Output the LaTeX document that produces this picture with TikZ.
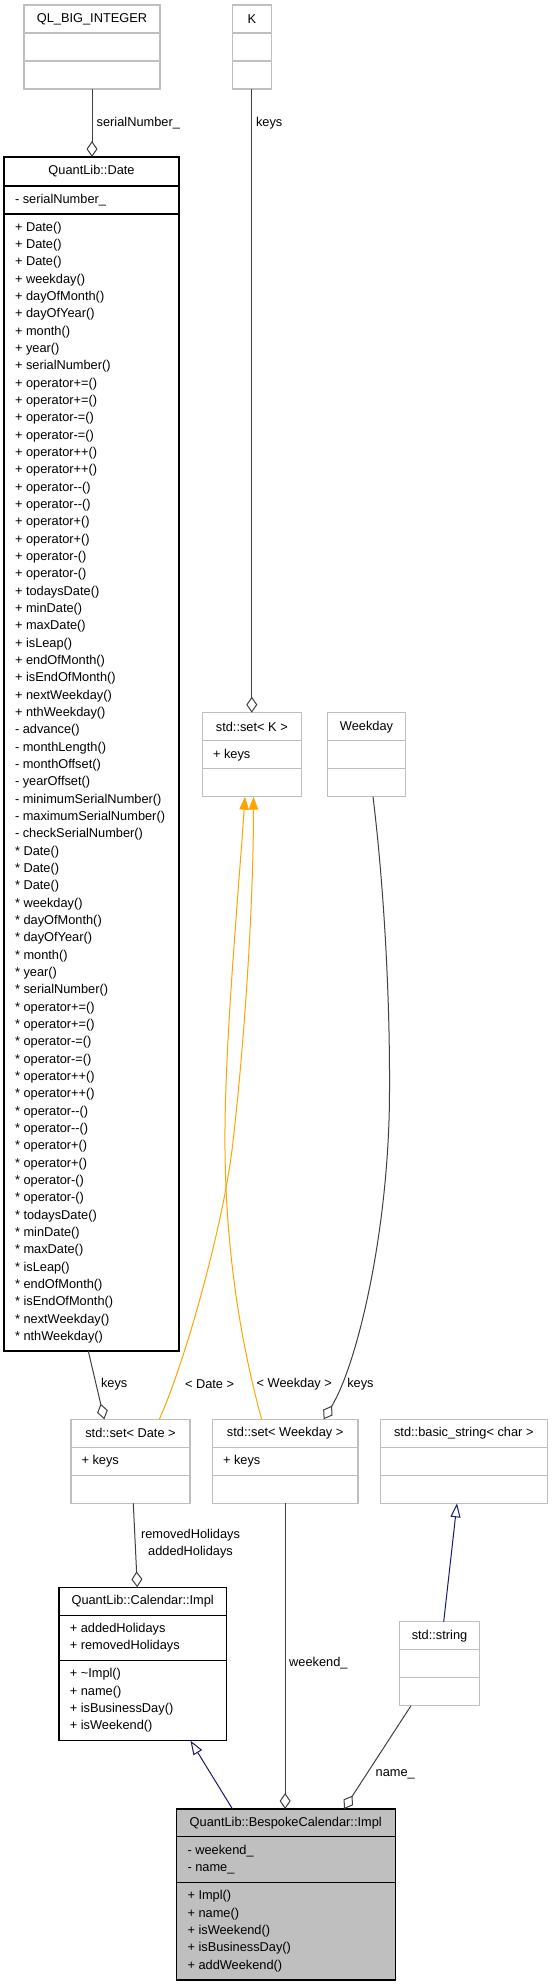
\documentclass[tikz,border=0pt]{standalone}
\usepackage{fontspec}
\setmainfont{Liberation Sans}
\usetikzlibrary{arrows.meta}
\definecolor{edgegray}{HTML}{404040}
\definecolor{boxgray}{HTML}{BFBFBF}
\definecolor{navyedge}{HTML}{191970}
\definecolor{tplorange}{HTML}{FFA500}
\newcommand\mm{-\kern0pt-}
\tikzset{
  every node/.style={font=\fontsize{12.8}{17.33}\selectfont, inner sep=0pt, outer sep=0pt},
  graybox/.style={draw=boxgray, line width=1.3pt, fill=white},
  blackbox/.style={draw=black, line width=1.2pt, fill=white},
  mainbox/.style={draw=black, line width=1.2pt, fill=boxgray},
  member/.style={anchor=west, align=left},
  lbl/.style={anchor=west},
  agg/.style={draw=edgegray, line width=1pt, -{Diamond[open,length=16pt,width=11pt]}},
  inh/.style={draw=navyedge, line width=1pt, -{Triangle[open,length=14pt,width=10pt]}},
  tpl/.style={draw=tplorange, line width=1pt, -{Triangle[length=13pt,width=9.5pt]}},
}
% name, style, x0, y0, x1, y1, sep1, sep2
\newcommand\umlbox[8]{%
  \node[#2, anchor=north west, minimum width={#5pt-#3pt}, minimum height={#6pt-#4pt}] (#1) at (#3,#4) {};
  \draw[#2, fill=none] (#3,#7) -- (#5,#7);
  \draw[#2, fill=none] (#3,#8) -- (#5,#8);
}
\begin{document}
\begin{tikzpicture}[x=1pt, y=-1pt]
\fill[white] (0,0) rectangle (552,1987);
\useasboundingbox (0,0) rectangle (552,1987);

% QL_BIG_INTEGER
\umlbox{ql}{graybox}{24}{5}{160}{89}{33}{61}
\node (qlt) at (92,19) {QL\_BIG\_INTEGER};
% K
\umlbox{k}{graybox}{232.3}{5}{271.3}{89}{33}{61}
\node (kt) at (251.8,19) {K};
% QuantLib::Date
\umlbox{date}{blackbox}{4}{157}{179}{1351}{186}{214}
\node (datet) at (91.5,171.5) {QuantLib::Date};
\node[member] (datea) at (15,200) {- serialNumber\_};
\node[member] (datem) at (15,782.5) {+ Date()\\+ Date()\\+ Date()\\+ weekday()\\+ dayOfMonth()\\+ dayOfYear()\\+ month()\\+ year()\\+ serialNumber()\\+ operator+=()\\+ operator+=()\\+ operator-=()\\+ operator-=()\\+ operator++()\\+ operator++()\\+ operator\mm()\\+ operator\mm()\\+ operator+()\\+ operator+()\\+ operator-()\\+ operator-()\\+ todaysDate()\\+ minDate()\\+ maxDate()\\+ isLeap()\\+ endOfMonth()\\+ isEndOfMonth()\\+ nextWeekday()\\+ nthWeekday()\\- advance()\\- monthLength()\\- monthOffset()\\- yearOffset()\\- minimumSerialNumber()\\- maximumSerialNumber()\\- checkSerialNumber()\\{}* Date()\\{}* Date()\\{}* Date()\\{}* weekday()\\{}* dayOfMonth()\\{}* dayOfYear()\\{}* month()\\{}* year()\\{}* serialNumber()\\{}* operator+=()\\{}* operator+=()\\{}* operator-=()\\{}* operator-=()\\{}* operator++()\\{}* operator++()\\{}* operator\mm()\\{}* operator\mm()\\{}* operator+()\\{}* operator+()\\{}* operator-()\\{}* operator-()\\{}* todaysDate()\\{}* minDate()\\{}* maxDate()\\{}* isLeap()\\{}* endOfMonth()\\{}* isEndOfMonth()\\{}* nextWeekday()\\{}* nthWeekday()};
% std::set< K >
\umlbox{setk}{graybox}{202.3}{712.7}{301.3}{796.7}{740.7}{768.7}
\node (setkt) at (251.8,726.7) {std::set< K >};
\node[member] (setka) at (213,754.7) {+ keys};
% Weekday
\umlbox{wkd}{graybox}{327.7}{712.7}{405.3}{796.7}{740.7}{768.7}
\node (wkdt) at (366.5,726.7) {Weekday};
% std::set< Date >
\umlbox{setd}{graybox}{71}{1419.3}{190}{1503.3}{1447.3}{1475.3}
\node (setdt) at (130.5,1433.3) {std::set< Date >};
\node[member] (setda) at (81.5,1461.3) {+ keys};
% std::set< Weekday >
\umlbox{setw}{graybox}{212.3}{1419.3}{358}{1503.3}{1447.3}{1475.3}
\node (setwt) at (285.15,1433.3) {std::set< Weekday >};
\node[member] (setwa) at (223,1461.3) {+ keys};
% std::basic_string< char >
\umlbox{bstr}{graybox}{380.3}{1419.3}{547.3}{1503.3}{1447.3}{1475.3}
\node (bstrt) at (463.8,1433.3) {std::basic\_string< char >};
% QuantLib::Calendar::Impl
\umlbox{cal}{blackbox}{58.9}{1587.3}{226.5}{1740.7}{1615.3}{1660.3}
\node (calt) at (142.7,1601.3) {QuantLib::Calendar::Impl};
\node[member] (cala) at (69.8,1637.8) {+ addedHolidays\\+ removedHolidays};
\node[member] (calm) at (69.8,1700.5) {+ \textasciitilde Impl()\\+ name()\\+ isBusinessDay()\\+ isWeekend()};
% std::string
\umlbox{str}{graybox}{399.3}{1621.7}{479.7}{1705.7}{1649.7}{1677.7}
\node (strt) at (439.5,1635.7) {std::string};
% QuantLib::BespokeCalendar::Impl
\umlbox{bes}{mainbox}{176.4}{1809}{395.1}{1980}{1836.7}{1882.3}
\node (best) at (285.75,1822.8) {QuantLib::BespokeCalendar::Impl};
\node[member] (besa) at (187.5,1859.5) {- weekend\_\\- name\_};
\node[member] (besm) at (187.5,1931.2) {+ Impl()\\+ name()\\+ isWeekend()\\+ isBusinessDay()\\+ addWeekend()};

% connectors
\draw[agg] (ql.south) -- (ql.south |- date.north);
\node[lbl] (l1) at (96.7,123) {serialNumber\_};
\draw[agg] (k.south) -- (setk.north);
\node[lbl] (l2) at (256,122.7) {keys};
\draw[agg] ([xshift=-3.2pt]date.south) -- ([xshift=-26.2pt]setd.north);
\node[lbl] (l3) at (101,1384.3) {keys};
\draw[agg] ([xshift=2.8pt]setd.south) -- ([xshift=-5.4pt]cal.north);
\node[align=center] (l4) at (190.5,1543.7) {removedHolidays\\addedHolidays};
\draw[tpl] ([xshift=28.8pt]setd.north) .. controls (185,1362) and (222,1230) .. (232,1150)
  .. controls (245,1040) and (253.5,900) .. ([xshift=1.7pt]setk.south);
\node[lbl] (l5) at (185,1384.3) {< Date >};
\draw[tpl] ([xshift=-23.5pt]setw.north) .. controls (240,1340) and (226,1250) .. (225,1150)
  .. controls (224,1050) and (238,900) .. ([xshift=-6.8pt]setk.south);
\node[lbl] (l6) at (256.7,1384.3) {< Weekday >};
\draw[agg] ([xshift=6.5pt]wkd.south) .. controls (382,870) and (390,980) .. (389.5,1090)
  .. controls (389.5,1230) and (357,1365) .. ([xshift=38.5pt]setw.north);
\node[lbl] (l7) at (347.3,1384.3) {keys};
\draw[agg] (setw.south) -- (setw.south |- bes.north);
\node[lbl] (l8) at (289.2,1662.7) {weekend\_};
\draw[agg] ([xshift=-28.5pt]str.south) -- ([xshift=58.15pt]bes.north);
\node[lbl] (l9) at (375.7,1774) {name\_};
\draw[inh] ([xshift=-53.25pt]bes.north) -- ([xshift=47.8pt]cal.south);
\draw[inh] ([xshift=4.2pt]str.north) -- ([xshift=-6.8pt]bstr.south);
\end{tikzpicture}
\end{document}
